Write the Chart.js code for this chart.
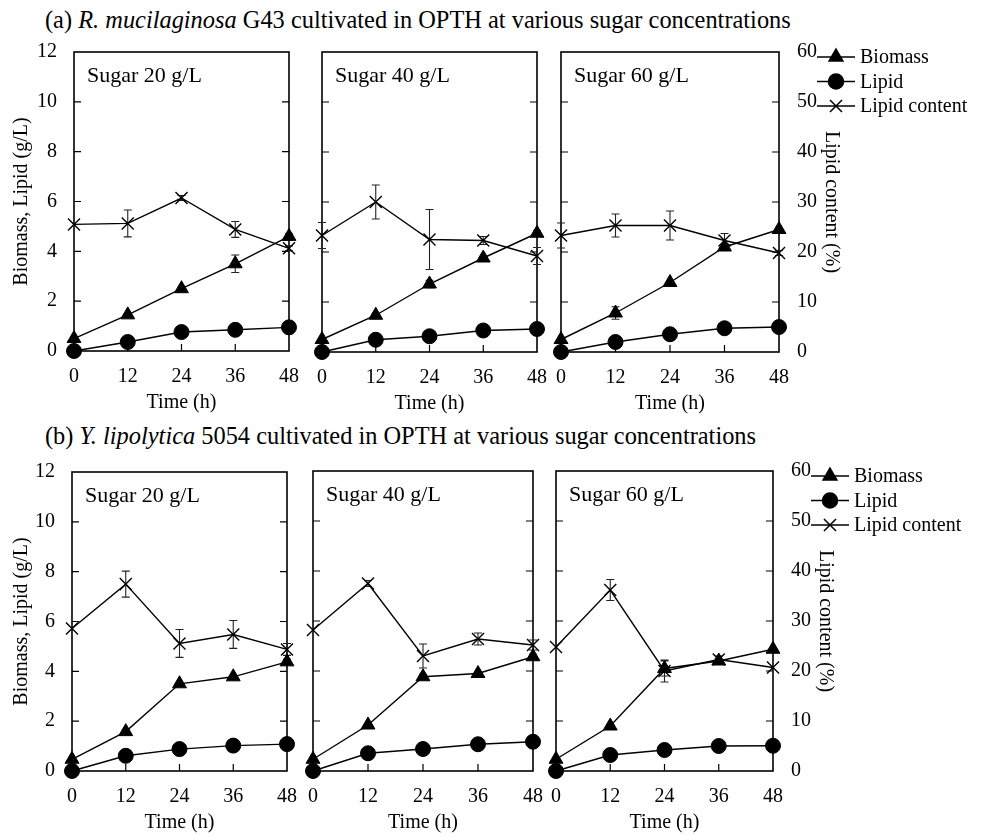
<!DOCTYPE html>
<html>
<head>
<meta charset="utf-8">
<script src="https://cdn.jsdelivr.net/npm/chart.js@4.4.1/dist/chart.umd.min.js"></script>
<style>
  html, body { margin: 0; padding: 0; background: #fff; }
  #page { position: relative; width: 983px; height: 836px; overflow: hidden; font-family: 'Liberation Serif', 'Times New Roman', serif; color: #000; }
  .rowTitle { position: absolute; left: 45px; font-size: 24.4px; line-height: 24px; white-space: nowrap; }
  canvas { position: absolute; }
</style>
</head>
<body>
<div id="page">
  <div class="rowTitle" style="top:8px">(a) <i>R. mucilaginosa</i> G43 cultivated in OPTH at various sugar concentrations</div>
  <div class="rowTitle" style="top:424px">(b) <i>Y. lipolytica</i> 5054 cultivated in OPTH at various sugar concentrations</div>
</div>
<script>
// time points and tick labels
const hours = [0, 12, 24, 36, 48];
const massTicks = [0, 2, 4, 6, 8, 10, 12];
const contentTicks = [0, 10, 20, 30, 40, 50, 60];
const sugarLabels = ['Sugar 20 g/L', 'Sugar 40 g/L', 'Sugar 60 g/L'];
const seriesNames = ['Biomass', 'Lipid', 'Lipid content'];

// (a) R. mucilaginosa G43, one row per sugar level (20, 40, 60 g/L)
const rmBiomass = [
    [0.5, 1.45, 2.5, 3.5, 4.6],
    [0.5, 1.47, 2.72, 3.76, 4.75],
    [0.5, 1.56, 2.78, 4.2, 4.9],
];
const rmBiomassErr = [
    [0, 0.05, 0.05, 0.35, 0.1],
    [0, 0.05, 0.15, 0.05, 0.1],
    [0, 0.25, 0.05, 0.1, 0.05],
];
const rmLipid = [
    [0, 0.36, 0.76, 0.85, 0.95],
    [0, 0.49, 0.63, 0.86, 0.92],
    [0, 0.4, 0.71, 0.95, 1.0],
];
const rmContent = [
    [25.4, 25.6, 30.7, 24.4, 20.6],
    [23.3, 30.0, 22.5, 22.3, 19.2],
    [23.3, 25.3, 25.3, 22.3, 19.8],
];
const rmContentErr = [
    [0, 2.7, 0.5, 1.6, 0.5],
    [2.6, 3.4, 6.0, 0.8, 1.7],
    [2.5, 2.3, 2.9, 1.4, 0.5],
];

// (b) Y. lipolytica 5054
const ylBiomass = [
    [0.47, 1.58, 3.5, 3.78, 4.38],
    [0.47, 1.84, 3.77, 3.9, 4.57],
    [0.47, 1.8, 4.1, 4.4, 4.87],
];
const ylBiomassErr = [
    [0, 0.05, 0.05, 0.05, 0.1],
    [0, 0.05, 0.1, 0.05, 0.1],
    [0, 0.05, 0.3, 0.1, 0.05],
];
const ylLipid = [
    [0, 0.61, 0.88, 1.02, 1.08],
    [0, 0.71, 0.88, 1.07, 1.17],
    [0, 0.64, 0.84, 1.0, 1.01],
];
const ylContent = [
    [28.6, 37.5, 25.6, 27.4, 24.4],
    [28.2, 37.5, 23.0, 26.4, 25.2],
    [24.8, 36.2, 20.0, 22.3, 20.7],
];
const ylContentErr = [
    [0, 2.6, 2.8, 2.8, 1.2],
    [0, 0.6, 2.4, 1.2, 1.0],
    [0, 2.1, 2.2, 0.7, 0],
];

const PAGE_W = 983;
const FONT = { family: "'Liberation Serif', 'Times New Roman', serif", size: 20 };
const PAD = 34; // room around each plot box for labels and markers

// plot boxes [left, top, right, bottom] on the page
const boxesA = [[74, 52, 289, 351], [322, 52, 537, 352], [561, 52, 779, 352]];
const boxesB = [[72, 472, 287, 771], [313, 471, 533, 771], [556, 471, 773, 771]];

const setTicks = (values) => (scale) => {
    scale.ticks = values.map((v) => ({ value: v }));
};

// frame with inward ticks, plus error bars, drawn under the markers
const framePlugin = {
    id: 'frame',
    beforeDatasetsDraw(chart) {
        const { ctx, chartArea: a, scales } = chart;
        ctx.save();
        ctx.strokeStyle = '#000';
        ctx.lineWidth = 1.6;
        ctx.strokeRect(a.left, a.top, a.right - a.left, a.bottom - a.top);
        ctx.lineWidth = 1.2;
        ctx.beginPath();
        scales.y.ticks.forEach((t) => {
            const py = scales.y.getPixelForValue(t.value);
            if (py <= a.top + 1 || py >= a.bottom - 1) return;
            ctx.moveTo(a.left, py); ctx.lineTo(a.left + 7, py);
            ctx.moveTo(a.right, py); ctx.lineTo(a.right - 7, py);
        });
        scales.x.ticks.forEach((t) => {
            const px = scales.x.getPixelForValue(t.value);
            if (px <= a.left + 1 || px >= a.right - 1) return;
            ctx.moveTo(px, a.bottom); ctx.lineTo(px, a.bottom - 7);
        });
        ctx.stroke();

        // error bars
        ctx.strokeStyle = '#222';
        ctx.lineWidth = 1.1;
        ctx.beginPath();
        chart.data.datasets.forEach((ds, i) => {
            if (!ds.errors) return;
            const yScale = scales[ds.yAxisID];
            chart.getDatasetMeta(i).data.forEach((pt, j) => {
                const e = ds.errors[j];
                if (!e) return;
                const v = ds.data[j].y;
                const y0 = yScale.getPixelForValue(v - e);
                const y1 = yScale.getPixelForValue(v + e);
                ctx.moveTo(pt.x, y0); ctx.lineTo(pt.x, y1);
                ctx.moveTo(pt.x - 4, y0); ctx.lineTo(pt.x + 4, y0);
                ctx.moveTo(pt.x - 4, y1); ctx.lineTo(pt.x + 4, y1);
            });
        });
        ctx.stroke();
        ctx.restore();
    },
};

// "Sugar xx g/L" inside the plot
const insetPlugin = {
    id: 'inset',
    afterDraw(chart, args, opts) {
        const { ctx, chartArea: a } = chart;
        ctx.save();
        ctx.fillStyle = '#000';
        ctx.font = "22px 'Liberation Serif', 'Times New Roman', serif";
        ctx.textBaseline = 'alphabetic';
        ctx.fillText(opts.text, a.left + 13, a.top + 30);
        ctx.restore();
    },
};

// legend beside the right axis of the last panel
const sideLegend = {
    id: 'sideLegend',
    afterDraw(chart, args, opts) {
        if (!opts.show) return;
        const { ctx, chartArea: a } = chart;
        const x0 = a.right + 38, x1 = a.right + 76, xt = a.right + 81;
        ctx.save();
        ctx.font = "20px 'Liberation Serif', 'Times New Roman', serif";
        ctx.textBaseline = 'middle';
        chart.data.datasets.forEach((ds, i) => {
            const y = a.top + 5 + i * 24.5;
            ctx.strokeStyle = '#000';
            ctx.lineWidth = 1.5;
            ctx.beginPath();
            ctx.moveTo(x0, y); ctx.lineTo(x1, y);
            ctx.stroke();
            ctx.fillStyle = '#000';
            Chart.helpers.drawPoint(ctx, {
                pointStyle: ds.pointStyle, radius: ds.pointRadius,
                borderWidth: ds.pointBorderWidth, rotation: 0,
            }, (x0 + x1) / 2, y);
            ctx.fillStyle = '#000';
            ctx.fillText(ds.label, xt, y + 1);
        });
        ctx.restore();
    },
};

function addPanel(box, col, biomass, biomassErr, lipid, content, contentErr) {
    const [l, t, r, b] = box;
    const first = col === 0;
    const last = col === 2;
    const cl = first ? 0 : l - PAD;
    const ct = t - PAD;
    const cr = last ? PAGE_W : r + PAD;
    const cb = b + 66;
    const canvas = document.createElement('canvas');
    canvas.width = cr - cl;
    canvas.height = cb - ct;
    canvas.style.left = cl + 'px';
    canvas.style.top = ct + 'px';
    document.getElementById('page').appendChild(canvas);

    const pts = (arr) => hours.map((h, i) => ({ x: h, y: arr[i] }));
    const common = {
        borderColor: '#000', borderWidth: 1.4, backgroundColor: '#000',
        pointBackgroundColor: '#000', pointBorderColor: '#000',
        fill: false, tension: 0, clip: false,
    };

    new Chart(canvas, {
        type: 'line',
        data: {
            datasets: [
                { ...common, label: seriesNames[0], data: pts(biomass), errors: biomassErr, yAxisID: 'y',
                    pointStyle: 'triangle', pointRadius: 8, pointBorderWidth: 1 },
                { ...common, label: seriesNames[1], data: pts(lipid), yAxisID: 'y',
                    pointStyle: 'circle', pointRadius: 7.5, pointBorderWidth: 1 },
                { ...common, label: seriesNames[2], data: pts(content), errors: contentErr, yAxisID: 'y1',
                    pointStyle: 'crossRot', pointRadius: 8.5, pointBorderWidth: 1.4 },
            ],
        },
        options: {
            responsive: false,
            animation: false,
            devicePixelRatio: 1,
            layout: { padding: { left: first ? 0 : PAD, top: PAD, right: last ? PAGE_W - r - 70 : PAD, bottom: 0 } },
            plugins: {
                legend: { display: false },
                tooltip: { enabled: false },
                inset: { text: sugarLabels[col] },
                sideLegend: { show: last },
            },
            scales: {
                x: {
                    type: 'linear', min: 0, max: 48,
                    afterBuildTicks: setTicks(hours),
                    grid: { display: false, drawTicks: false },
                    border: { display: false },
                    ticks: { font: FONT, color: '#000', padding: 14, maxRotation: 0, autoSkip: false },
                    title: { display: true, text: 'Time (h)', font: FONT, color: '#000', padding: { top: 0, bottom: 2 } },
                    afterFit: (s) => { s.height = 66; },
                },
                y: {
                    position: 'left', min: 0, max: 12, display: first,
                    afterBuildTicks: setTicks(massTicks),
                    grid: { display: false, drawTicks: false },
                    border: { display: false },
                    ticks: { font: FONT, color: '#000', padding: 17 },
                    title: { display: true, text: 'Biomass, Lipid (g/L)', font: FONT, color: '#000', padding: { top: 10, bottom: 0 } },
                    afterFit: (s) => { if (first) s.width = l; },
                },
                y1: {
                    position: 'right', min: 0, max: 60, display: last,
                    afterBuildTicks: setTicks(contentTicks),
                    grid: { display: false, drawTicks: false },
                    border: { display: false },
                    ticks: { font: FONT, color: '#000', padding: 18 },
                    title: { display: true, text: 'Lipid content (%)', font: FONT, color: '#000', padding: { top: 6, bottom: 0 } },
                    afterFit: (s) => { if (last) s.width = 70; },
                },
            },
        },
        plugins: [framePlugin, insetPlugin, sideLegend],
    });
}

for (let c = 0; c < 3; c++) {
    addPanel(boxesA[c], c, rmBiomass[c], rmBiomassErr[c], rmLipid[c], rmContent[c], rmContentErr[c]);
    addPanel(boxesB[c], c, ylBiomass[c], ylBiomassErr[c], ylLipid[c], ylContent[c], ylContentErr[c]);
}
</script>
</body>
</html>
